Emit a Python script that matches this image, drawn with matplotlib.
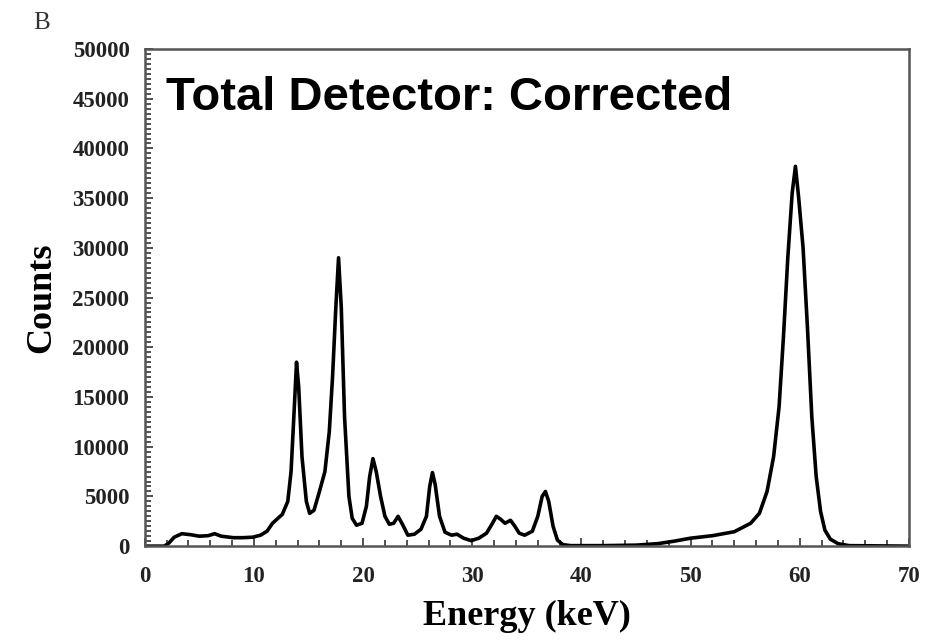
import matplotlib
matplotlib.use('Agg')

import matplotlib.pyplot as plt
from matplotlib.ticker import MultipleLocator

# spectrum
energy = [0, 1.8, 2.2, 2.7, 3.4, 4.2, 5.0, 5.8, 6.4, 7.0, 8.1, 9.0, 9.9, 10.6,
          11.2, 11.7, 12.2, 12.6, 13.1, 13.4, 13.7, 13.9, 14.1, 14.4, 14.8, 15.1,
          15.5, 16.0, 16.5, 16.9, 17.2, 17.5, 17.75, 18.0, 18.3, 18.7, 19.0, 19.4,
          19.9, 20.3, 20.6, 20.9, 21.2, 21.6, 22.0, 22.4, 22.8, 23.2, 23.6, 24.1,
          24.7, 25.3, 25.8, 26.1, 26.35, 26.6, 27.0, 27.5, 28.1, 28.6, 29.2, 29.9,
          30.6, 31.3, 31.8, 32.2, 32.6, 33.0, 33.5, 33.9, 34.3, 34.8, 35.5, 36.0,
          36.4, 36.7, 37.0, 37.4, 37.8, 38.3, 39, 42, 45, 47, 48.5, 50, 52, 54,
          55.5, 56.3, 57.0, 57.6, 58.1, 58.5, 58.9, 59.3, 59.6, 59.9, 60.3, 60.7,
          61.1, 61.5, 61.9, 62.3, 62.8, 63.5, 64.5, 70]
counts = [0, 0, 300, 900, 1250, 1150, 1000, 1050, 1250, 1000, 850, 850, 900, 1100,
          1500, 2300, 2800, 3200, 4500, 7500, 14000, 18500, 16000, 9000, 4500, 3300,
          3600, 5500, 7500, 11500, 17000, 24000, 29000, 24000, 13000, 5000, 2800, 2100,
          2300, 4000, 7000, 8800, 7500, 5000, 3000, 2200, 2300, 3000, 2200, 1100,
          1200, 1700, 3000, 6000, 7400, 6200, 3000, 1400, 1100, 1200, 800, 550,
          800, 1300, 2200, 3000, 2700, 2300, 2600, 2000, 1300, 1100, 1500, 3000,
          5000, 5500, 4500, 2000, 600, 150, 50, 50, 100, 250, 500, 800, 1050, 1450,
          2300, 3300, 5500, 9000, 14000, 21000, 29000, 35500, 38200, 35000, 30000, 22000,
          13000, 7000, 3500, 1600, 700, 250, 50, 0]

serif = 'Liberation Serif'

fig = plt.figure(figsize=(9.28, 6.41), dpi=100)
ax = fig.add_axes([0.156, 0.148, 0.8235, 0.7755])

ax.plot(energy, counts, color='black', lw=2.6, solid_joinstyle='round')

ax.set_xlim(0, 70)
ax.set_ylim(0, 50000)
ax.xaxis.set_major_locator(MultipleLocator(10))
ax.xaxis.set_minor_locator(MultipleLocator(2))
ax.yaxis.set_major_locator(MultipleLocator(5000))
ax.yaxis.set_minor_locator(MultipleLocator(500))
ax.tick_params(which='both', direction='in', top=False, right=False,
               color='#333333', width=1.2)
ax.tick_params(which='major', length=6)
ax.tick_params(which='minor', length=4)
ax.tick_params(axis='x', pad=14)
ax.tick_params(axis='y', pad=11)
for lab in ax.get_xticklabels() + ax.get_yticklabels():
    lab.set_fontfamily(serif)
    lab.set_fontweight('bold')
    lab.set_fontsize(16.5)
    lab.set_color('#222222')
for s in ax.spines.values():
    s.set_linewidth(1.8)
    s.set_color('#555555')

ax.set_xlabel('Energy (keV)', fontfamily=serif, fontweight='bold', fontsize=26, labelpad=10)
ax.set_ylabel('Counts', fontfamily=serif, fontweight='bold', fontsize=26, labelpad=10)

ax.text(0.028, 0.945, 'Total Detector: Corrected', transform=ax.transAxes,
        fontfamily='Liberation Sans', fontweight='bold', fontsize=34,
        va='top', ha='left')
fig.text(0.036, 0.955, 'B', fontfamily=serif, fontsize=18, color='#333333')

fig.savefig('out.png', dpi=100)
